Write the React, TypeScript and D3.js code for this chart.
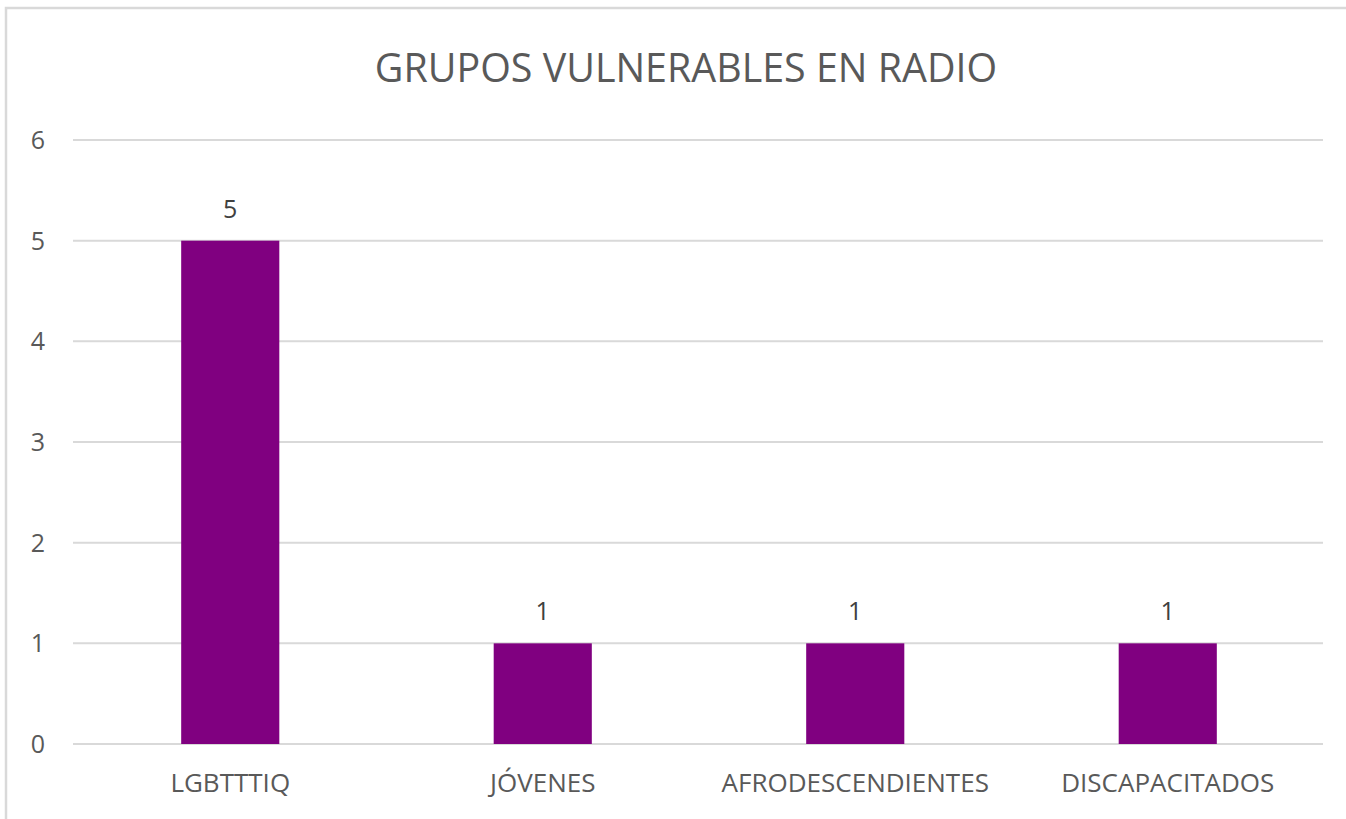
import * as d3 from "d3";
import * as React from "react";

const categories = ["LGBTTTIQ", "JÓVENES", "AFRODESCENDIENTES", "DISCAPACITADOS"];
const values = [5, 1, 1, 1];
const yTicks = [0, 1, 2, 3, 4, 5, 6];
const title = "GRUPOS VULNERABLES EN RADIO";

const W = 1346;
const H = 819;
const margin = { top: 140, bottom: 75, left: 74, right: 22 };
const font = "'Open Sans', sans-serif";
const textColor = "#595959";

export default function App() {
    const x = d3.scaleBand()
        .domain(categories)
        .range([margin.left, W - margin.right])
        .paddingInner(0.686)
        .paddingOuter(0.343);

    const y = d3.scaleLinear()
        .domain([0, 6])
        .range([H - margin.bottom, margin.top]);

    return (
        <svg width={W} height={H} style={{ position: "absolute", left: 0, top: 0, background: "#fff" }}>
            <rect x={6} y={8} width={W} height={H} fill="none" stroke="#d9d9d9" strokeWidth={2.5} />
            <text x={686} y={82} textAnchor="middle" fontFamily={font} fontSize={39.4} fill={textColor}>{title}</text>
            <g>
                {yTicks.map(t => (
                    <g key={t}>
                        <line x1={73} x2={W - 23} y1={y(t)} y2={y(t)} stroke="#d9d9d9" strokeWidth={2} />
                        <text x={45} y={y(t)} dy="0.36em" textAnchor="end" fontFamily={font} fontSize={25} fill={textColor}>{t}</text>
                    </g>
                ))}
            </g>
            <g>
                {categories.map((c, i) => (
                    <g key={c}>
                        <rect x={x(c)!} y={y(values[i])} width={x.bandwidth()} height={y(0) - y(values[i])} fill="#800080" />
                        <text x={x(c)! + x.bandwidth() / 2} y={y(values[i]) - 23} textAnchor="middle" fontFamily={font} fontSize={25} fill="#404040">{values[i]}</text>
                        <text x={x(c)! + x.bandwidth() / 2} y={792} textAnchor="middle" fontFamily={font} fontSize={26} fill={textColor}>{c}</text>
                    </g>
                ))}
            </g>
        </svg>
    );
}
